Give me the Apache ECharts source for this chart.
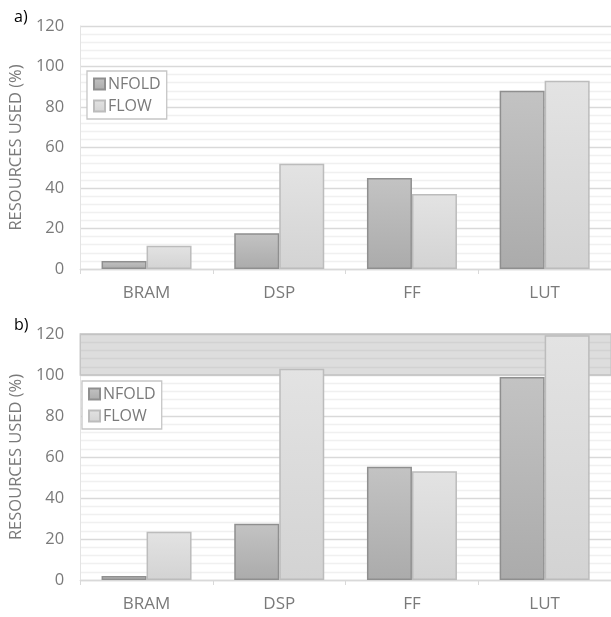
<!DOCTYPE html>
<html><head><meta charset="utf-8">
<script src="https://cdn.jsdelivr.net/npm/echarts@6/dist/echarts.min.js"></script>
<style>html,body{margin:0;padding:0;background:#fff}#c{width:611px;height:617px}</style>
</head><body><div id="c"></div>
<script>
const categories = ['BRAM','DSP','FF','LUT'];
const nfoldA = [4, 17.7, 45, 88];
const flowA = [11.5, 52, 37, 93];
const nfoldB = [2, 27.5, 55.3, 99];
const flowB = [23.5, 103, 53, 119.4];
const yTicks = {min: 0, max: 120, interval: 20};
const limitBand = [100, 120];
const panelLabels = ['a)', 'b)'];
const seriesNames = ['NFOLD', 'FLOW'];

const FONT = '"Open Sans", "Liberation Sans", sans-serif';
const TXT = '#7a7a7a';
const nfoldStyle = {
  color: {type:'linear',x:0,y:0,x2:0,y2:1,colorStops:[{offset:0,color:'#c3c3c3'},{offset:1,color:'#ababab'}]},
  borderColor:'#8f8f8f', borderWidth:1.5
};
const flowStyle = {
  color: {type:'linear',x:0,y:0,x2:0,y2:1,colorStops:[{offset:0,color:'#e3e3e3'},{offset:1,color:'#d3d3d3'}]},
  borderColor:'#bcbcbc', borderWidth:1.5
};

function yAxis(i){
  return {
    gridIndex:i, type:'value', min:yTicks.min, max:yTicks.max, interval:yTicks.interval,
    name:'RESOURCES USED (%)', nameLocation:'middle', nameGap:50,
    nameTextStyle:{color:TXT, fontSize:16.5, fontFamily:FONT},
    axisLine:{show:true, lineStyle:{color:'#e3e3e3'}},
    axisTick:{show:false},
    axisLabel:{color:TXT, fontSize:16.5, fontFamily:FONT, margin:16},
    splitLine:{show:true, lineStyle:{color:'#d9d9d9', width:1.3}},
    minorTick:{show:false, splitNumber:5},
    minorSplitLine:{show:true, lineStyle:{color:'#f0f0f0', width:1.3}}
  };
}
function xAxis(i){
  return {
    gridIndex:i, type:'category', data:categories,
    axisLine:{show:true, lineStyle:{color:'#d9d9d9', width:1.3}},
    axisTick:{show:true, alignWithLabel:false, length:5, lineStyle:{color:'#d9d9d9'}},
    axisLabel:{color:TXT, fontSize:17, fontFamily:FONT, margin:16}
  };
}
function legend(i, left, top){
  return {
    data: seriesNames, orient:'vertical', left:left, top:top,
    itemWidth:11, itemHeight:11, itemGap:6,
    backgroundColor:'#fff', borderColor:'#c6c6c6', borderWidth:1.3,
    padding:[5,6,5,6], icon:'rect',
    textStyle:{color:TXT, fontSize:16, fontFamily:FONT, padding:[0,0,0,-2]},
    selectedMode:false
  };
}
function bars(i, nf, fl){
  return [
    {name:seriesNames[0], type:'bar', xAxisIndex:i, yAxisIndex:i, data:nf, itemStyle:nfoldStyle,
     barGap:'0%', barCategoryGap:'33%', barWidth:45},
    {name:seriesNames[1], type:'bar', xAxisIndex:i, yAxisIndex:i, data:fl, itemStyle:flowStyle,
     barGap:'0%', barCategoryGap:'33%', barWidth:45}
  ];
}

const chart = echarts.init(document.getElementById('c'), null, {renderer:'canvas'});
chart.setOption({
  animation:false,
  grid:[
    {left:78, top:26, right:0, height:243, containLabel:false},
    {left:75, top:334, right:0, height:246, containLabel:false}
  ],
  xAxis:[xAxis(0), xAxis(1)],
  yAxis:[yAxis(0), yAxis(1)],
  legend:[legend(0, 87, 71), legend(1, 82, 381)],
  title:[
    {text:panelLabels[0], left:9, top:4, textStyle:{color:'#000', fontSize:16, fontWeight:'normal', fontFamily:FONT}},
    {text:panelLabels[1], left:9, top:312, textStyle:{color:'#000', fontSize:16, fontWeight:'normal', fontFamily:FONT}}
  ],
  series:[
    ...bars(0, nfoldA, flowA),
    ...bars(1, nfoldB, flowB),
    {type:'line', xAxisIndex:1, yAxisIndex:1, data:[], z:10, silent:true,
     markArea:{silent:true, itemStyle:{color:'rgba(128,128,128,0.27)', borderColor:'#c4c4c4', borderWidth:1.3},
       data:[[{yAxis:limitBand[0]},{yAxis:limitBand[1]}]]}}
  ]
});
</script></body></html>
